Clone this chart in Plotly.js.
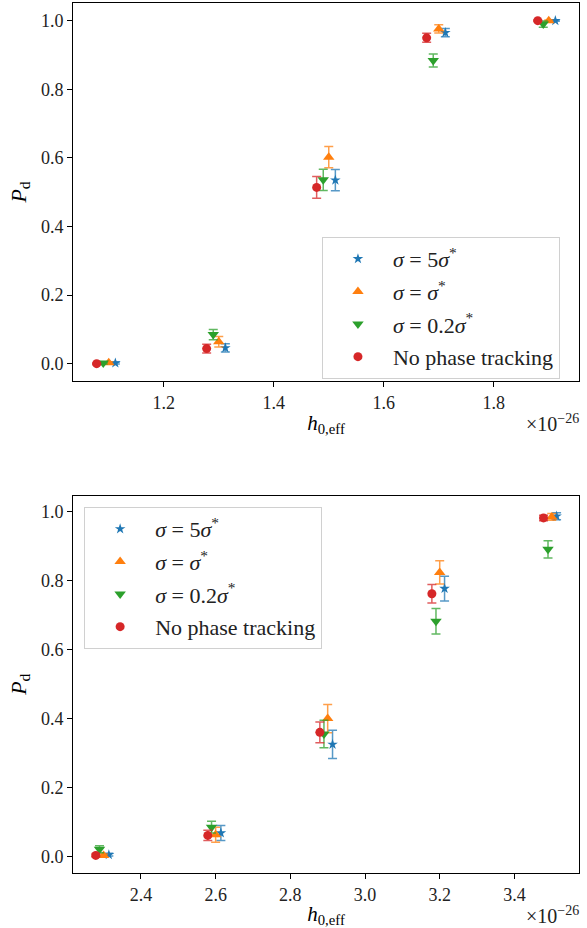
<!DOCTYPE html>
<html>
<head>
<meta charset="utf-8">
<script src="https://cdn.plot.ly/plotly-3.0.1.min.js"></script>
<style>html,body{margin:0;padding:0;background:#fff;}#chart{width:587px;height:928px;}</style>
</head>
<body>
<div id="chart"></div>
<script>
// Series names
const seriesNames = ["<i>σ</i> = 5<i>σ</i><sup>*</sup>", "<i>σ</i> = <i>σ</i><sup>*</sup>", "<i>σ</i> = 0.2<i>σ</i><sup>*</sup>", "No phase tracking"];

// ---- Top panel (h0,eff in units of 1e-26) ----
const topX_5s   = [1.112, 1.312, 1.512, 1.712, 1.912];
const topY_5s   = [0.002, 0.046, 0.535, 0.965, 1.000];
const topE_5s   = [0.003, 0.012, 0.031, 0.012, 0.002];
const topX_1s   = [1.100, 1.300, 1.500, 1.700, 1.900];
const topY_1s   = [0.003, 0.064, 0.602, 0.976, 1.000];
const topE_1s   = [0.003, 0.015, 0.031, 0.012, 0.002];
const topX_02s  = [1.090, 1.290, 1.490, 1.690, 1.890];
const topY_02s  = [0.002, 0.085, 0.536, 0.884, 0.990];
const topE_02s  = [0.003, 0.015, 0.031, 0.019, 0.009];
const topX_np   = [1.078, 1.278, 1.478, 1.678, 1.880];
const topY_np   = [0.000, 0.044, 0.514, 0.950, 1.000];
const topE_np   = [0.002, 0.013, 0.032, 0.013, 0.002];

// ---- Bottom panel ----
const botX_5s   = [2.314, 2.614, 2.913, 3.213, 3.513];
const botY_5s   = [0.005, 0.068, 0.325, 0.777, 0.987];
const botE_5s   = [0.004, 0.022, 0.041, 0.036, 0.010];
const botX_1s   = [2.300, 2.600, 2.900, 3.200, 3.500];
const botY_1s   = [0.003, 0.063, 0.400, 0.824, 0.985];
const botE_1s   = [0.004, 0.022, 0.041, 0.034, 0.010];
const botX_02s  = [2.289, 2.589, 2.890, 3.190, 3.490];
const botY_02s  = [0.021, 0.085, 0.355, 0.682, 0.891];
const botE_02s  = [0.010, 0.017, 0.040, 0.037, 0.025];
const botX_np   = [2.279, 2.579, 2.879, 3.179, 3.478];
const botY_np   = [0.003, 0.061, 0.360, 0.762, 0.982];
const botE_np   = [0.004, 0.015, 0.030, 0.027, 0.008];

const colors = ["#1f77b4", "#ff7f0e", "#2ca02c", "#d62728"];
const errColors = ["rgba(31,119,180,0.75)", "rgba(255,127,14,0.75)", "rgba(44,160,44,0.75)", "rgba(214,39,40,0.75)"];
const symbols = ["star", "triangle-up", "triangle-down", "circle"];
const sizes = [8, 10, 10, 9];

function mk(x, y, e, i, xa, ya, leg) {
  return {
    type: "scatter", mode: "markers", x: x, y: y,
    xaxis: xa, yaxis: ya, legend: leg, name: seriesNames[i], legendgroup: leg + i,
    marker: {color: colors[i], symbol: symbols[i], size: sizes[i], line: {width: 0}},
    error_y: {type: "data", array: e, visible: true, color: errColors[i], thickness: 1.5, width: 4.5}
  };
}

const data = [
  mk(topX_5s, topY_5s, topE_5s, 0, "x", "y", "legend"),
  mk(topX_1s, topY_1s, topE_1s, 1, "x", "y", "legend"),
  mk(topX_02s, topY_02s, topE_02s, 2, "x", "y", "legend"),
  mk(topX_np, topY_np, topE_np, 3, "x", "y", "legend"),
  mk(botX_5s, botY_5s, botE_5s, 0, "x2", "y2", "legend2"),
  mk(botX_1s, botY_1s, botE_1s, 1, "x2", "y2", "legend2"),
  mk(botX_02s, botY_02s, botE_02s, 2, "x2", "y2", "legend2"),
  mk(botX_np, botY_np, botE_np, 3, "x2", "y2", "legend2")
];

const FONT = "'Liberation Serif', 'DejaVu Serif', serif";
const axisCommon = {
  showline: true, linecolor: "#000", linewidth: 1, mirror: true,
  ticks: "outside", ticklen: 5, tickwidth: 1, tickcolor: "#000",
  showgrid: false, zeroline: false,
  tickfont: {family: FONT, size: 18, color: "#222"}
};

const xTitle = {text: "<i>h</i><sub>0,eff</sub>", font: {family: FONT, size: 21, color: "#000"}, standoff: 3};
const yTitle = {text: "<i>P</i><sub>d</sub>", font: {family: FONT, size: 22, color: "#000"}, standoff: 8};

const legendCommon = {
  xanchor: "left", yanchor: "top",
  bgcolor: "rgba(255,255,255,0.8)", bordercolor: "#d0d0d0", borderwidth: 1,
  font: {family: FONT, size: 22, color: "#222"}, itemwidth: 60,
  traceorder: "grouped", tracegroupgap: 1
};

const layout = {
  width: 587, height: 928,
  margin: {l: 73, r: 8, t: 3, b: 55},
  paper_bgcolor: "#fff", plot_bgcolor: "#fff",
  showlegend: true,
  xaxis: Object.assign({}, axisCommon, {domain: [0, 1], anchor: "y", range: [1.035, 1.955], tickvals: [1.2, 1.4, 1.6, 1.8], ticktext: ["1.2", "1.4", "1.6", "1.8"], title: xTitle}),
  yaxis: Object.assign({}, axisCommon, {domain: [0.5655, 1], anchor: "x", range: [-0.0505, 1.0515], tickvals: [0, 0.2, 0.4, 0.6, 0.8, 1.0], tickformat: ".1f", title: yTitle}),
  xaxis2: Object.assign({}, axisCommon, {domain: [0, 1], anchor: "y2", range: [2.218, 3.573], tickvals: [2.4, 2.6, 2.8, 3.0, 3.2, 3.4], tickformat: ".1f", title: xTitle}),
  yaxis2: Object.assign({}, axisCommon, {domain: [0, 0.4339], anchor: "x2", range: [-0.048, 1.047], tickvals: [0, 0.2, 0.4, 0.6, 0.8, 1.0], tickformat: ".1f", title: yTitle}),
  legend: Object.assign({}, legendCommon, {x: 0.492, y: 0.731}),
  legend2: Object.assign({}, legendCommon, {x: 0.022, y: 0.4206}),
  annotations: [
    {xref: "paper", yref: "paper", x: 1.0, y: 0.5655, xanchor: "right", yanchor: "top", yshift: -28, xshift: 2, showarrow: false,
     text: "×10<sup>−26</sup>", font: {family: FONT, size: 20, color: "#222"}},
    {xref: "paper", yref: "paper", x: 1.0, y: 0, xanchor: "right", yanchor: "top", yshift: -28, xshift: 2, showarrow: false,
     text: "×10<sup>−26</sup>", font: {family: FONT, size: 20, color: "#222"}}
  ]
};

Plotly.newPlot("chart", data, layout, {displayModeBar: false, staticPlot: true});
</script>
</body>
</html>
